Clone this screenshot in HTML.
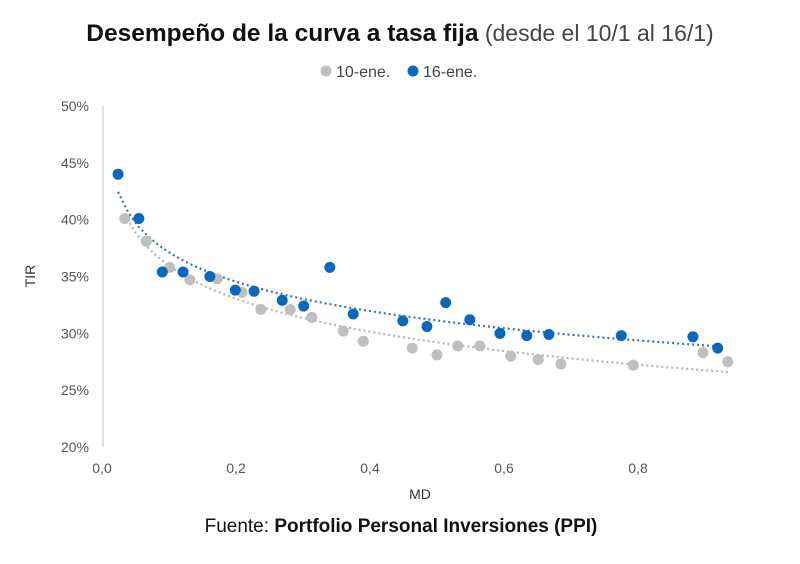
<!DOCTYPE html>
<html><head><meta charset="utf-8"><style>
body{margin:0;background:#fff;font-family:"Liberation Sans",sans-serif;}
svg text{font-family:"Liberation Sans",sans-serif;}
</style></head><body>
<svg id="c" width="800" height="559" xmlns="http://www.w3.org/2000/svg">
<text x="400" y="41" text-anchor="middle" font-size="24.5" fill="#111"><tspan font-weight="bold">Desempeño de la curva a tasa fija</tspan><tspan fill="#444" font-size="23"> (desde el 10/1 al 16/1)</tspan></text>
<g>
<circle cx="326" cy="71" r="5.5" fill="#bfbfbf"/>
<text x="336" y="77" font-size="16" fill="#444">10-ene.</text>
<circle cx="413" cy="71" r="5.5" fill="#0868c0"/>
<text x="423" y="77" font-size="16" fill="#444">16-ene.</text>
</g>
<line x1="103" y1="106" x2="103" y2="447" stroke="#d9d9d9" stroke-width="1.5"/>
<g id="yt"></g><g id="xt"></g>
<g id="trend"></g><g id="pts"></g>
<text x="420" y="499" text-anchor="middle" font-size="14" fill="#333">MD</text>
<text transform="translate(35,276) rotate(-90)" text-anchor="middle" font-size="14" fill="#333">TIR</text>
<text x="401" y="532" text-anchor="middle" font-size="19" fill="#111">Fuente: <tspan font-weight="bold">Portfolio Personal Inversiones (PPI)</tspan></text>
</svg>
<script>
const yTicks=[20,25,30,35,40,45,50];
const yTickLabels=["20%","25%","30%","35%","40%","45%","50%"];
const xTicks=[0,0.2,0.4,0.6,0.8];
const xTickLabels=["0,0","0,2","0,4","0,6","0,8"];
const md10=[.034,.066,.101,.131,.172,.209,.237,.281,.313,.36,.39,.463,.5,.531,.564,.61,.651,.685,.793,.897,.934];
const tir10=[40.1,38.1,35.8,34.7,34.8,33.6,32.1,32.1,31.4,30.2,29.3,28.7,28.1,28.9,28.9,28.0,27.7,27.3,27.2,28.3,27.5];
const md16=[.024,.055,.090,.121,.161,.199,.227,.269,.301,.34,.375,.449,.485,.513,.549,.594,.634,.667,.775,.882,.919];
const tir16=[44.0,40.1,35.4,35.4,35.0,33.8,33.7,32.9,32.4,35.8,31.7,31.1,30.6,32.7,31.2,30.0,29.8,29.9,29.8,29.7,28.7];
const NS='http://www.w3.org/2000/svg';
const X=v=>102+v*670, Y=v=>447-(v-20)*(341/30);
function mk(t,a,p){const e=document.createElementNS(NS,t);for(const k in a)e.setAttribute(k,a[k]);document.getElementById(p).appendChild(e);return e;}
yTicks.forEach((v,i)=>{const t=mk('text',{x:89,y:Y(v)+5,'text-anchor':'end','font-size':14,fill:'#555'},'yt');t.textContent=yTickLabels[i];

});
xTicks.forEach((v,i)=>{const t=mk('text',{x:X(v),y:473,'text-anchor':'middle','font-size':14,fill:'#555'},'xt');t.textContent=xTickLabels[i];

});
function fit(xs,ys){const n=xs.length;let sx=0,sy=0,sxx=0,sxy=0;xs.forEach((x,i)=>{const l=Math.log(x);sx+=l;sy+=ys[i];sxx+=l*l;sxy+=l*ys[i];});const b=(n*sxy-sx*sy)/(n*sxx-sx*sx);return [(sy-b*sx)/n,b];}
function trend(xs,ys,col,name){const [a,b]=fit(xs,ys);const x0=Math.min(...xs),x1=Math.max(...xs);let d='';for(let i=0;i<=60;i++){const x=x0+(x1-x0)*i/60;d+=(i?'L':'M')+X(x).toFixed(1)+' '+Y(a+b*Math.log(x)).toFixed(1);}
const p=mk('path',{d:d,fill:'none',stroke:col,'stroke-width':2.2,'stroke-dasharray':'2 3'},'trend');

}
trend(md10,tir10,'#b5b5b5','trendline-10-ene');
trend(md16,tir16,'#3a70c0','trendline-16-ene');
md10.forEach((x,i)=>{const c=mk('circle',{cx:X(x),cy:Y(tir10[i]),r:5.5,fill:'#bfbfbf'},'pts');

});
md16.forEach((x,i)=>{const c=mk('circle',{cx:X(x),cy:Y(tir16[i]),r:5.5,fill:'#0868c0'},'pts');

});
</script>
</body></html>
